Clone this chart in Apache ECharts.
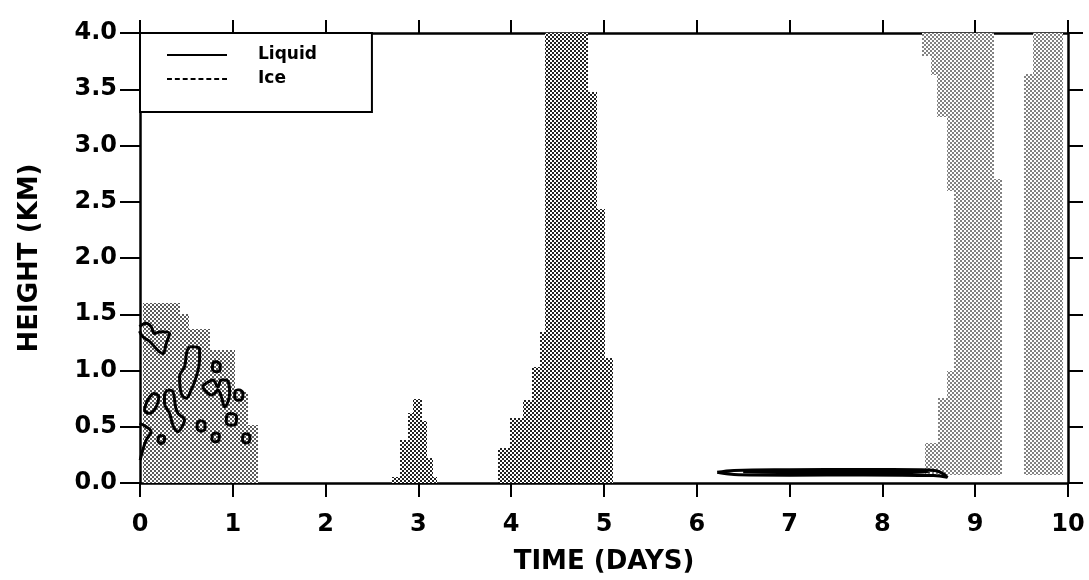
<!DOCTYPE html>
<html>
<head>
<meta charset="utf-8">
<script src="https://cdn.jsdelivr.net/npm/echarts@6/dist/echarts.min.js"></script>
<style>html,body{margin:0;padding:0;background:#fff;}#c{width:1089px;height:580px;}</style>
</head>
<body>
<div id="c"></div>
<script>
// ---------- DATA ----------
const xTickLabels = ['0','1','2','3','4','5','6','7','8','9','10'];
const yTickLabels = ['0.0','0.5','1.0','1.5','2.0','2.5','3.0','3.5','4.0'];

// Ice cloud occurrence: [timeStart, timeEnd, heightBottom, heightTop] (days, km)
const iceDay0 = [
  [0.03,0.43,0,1.60],[0.43,0.53,0,1.50],[0.53,0.75,0,1.37],
  [0.75,1.02,0,1.18],[1.02,1.16,0,0.81],[1.16,1.27,0,0.52]
];
const iceDay3 = [
  [2.72,2.80,0,0.05],[2.80,2.89,0,0.38],[2.89,2.94,0,0.62],[2.94,3.04,0,0.75],
  [3.04,3.09,0,0.55],[3.09,3.16,0,0.22],[3.16,3.20,0,0.05]
];
const iceDay4 = [
  [3.86,3.99,0,0.31],[3.99,4.13,0,0.58],[4.13,4.22,0,0.74],[4.22,4.31,0,1.03],
  [4.31,4.36,0,1.34],[4.36,4.83,0,4.0],[4.83,4.92,0,3.48],[4.92,5.01,0,2.44],[5.01,5.10,0,1.11]
];
const iceDay9 = [
  [8.43,8.52,3.80,4.0],[8.52,8.59,3.63,4.0],[8.59,8.70,3.25,4.0],[8.70,8.77,2.60,4.0],
  [8.77,9.20,0.07,4.0],[9.20,9.29,0.07,2.70],[8.70,8.77,0.07,1.00],
  [8.60,8.70,0.07,0.76],[8.46,8.60,0.07,0.36]
];
const iceDay10 = [
  [9.62,9.95,3.64,4.0],[9.53,9.95,0.07,3.64]
];

// Liquid water contours: lists of [time, height]
const liquidContours = [
  [[-0.005,1.39],[0.067,1.42],[0.12,1.39],[0.156,1.33],[0.229,1.345],[0.318,1.33],[0.283,1.24],[0.246,1.15],[0.192,1.18],[0.102,1.26],[0.03,1.30],[-0.005,1.35]],
  [[0.534,1.212],[0.642,1.197],[0.642,1.093],[0.606,0.945],[0.552,0.827],[0.498,0.753],[0.444,0.797],[0.426,0.945],[0.48,1.034],[0.505,1.167],[0.534,1.212]],
  [[0.138,0.797],[0.203,0.767],[0.175,0.678],[0.102,0.619],[0.049,0.649],[0.084,0.738],[0.138,0.797]],
  [[0.30,0.827],[0.354,0.812],[0.383,0.678],[0.408,0.62],[0.48,0.56],[0.444,0.486],[0.408,0.456],[0.361,0.50],[0.318,0.62],[0.264,0.708],[0.264,0.782],[0.30,0.827]],
  [[0.714,0.886],[0.785,0.916],[0.839,0.856],[0.876,0.916],[0.930,0.916],[0.966,0.797],[0.912,0.678],[0.876,0.767],[0.839,0.827],[0.804,0.797],[0.768,0.782],[0.714,0.812],[0.678,0.856],[0.714,0.886]],
  [[0.822,1.08],[0.865,1.05],[0.86,1.0],[0.815,0.99],[0.78,1.02],[0.79,1.07],[0.822,1.08]],
  [[1.066,0.83],[1.11,0.80],[1.10,0.745],[1.06,0.735],[1.02,0.76],[1.025,0.815],[1.066,0.83]],
  [[0.984,0.62],[1.04,0.59],[1.035,0.53],[0.98,0.513],[0.93,0.54],[0.935,0.60],[0.984,0.62]],
  [[0.66,0.555],[0.70,0.53],[0.70,0.48],[0.655,0.46],[0.615,0.49],[0.62,0.535],[0.66,0.555]],
  [[0.814,0.446],[0.855,0.425],[0.85,0.385],[0.81,0.366],[0.775,0.39],[0.78,0.43],[0.814,0.446]],
  [[1.146,0.44],[1.185,0.415],[1.18,0.375],[1.14,0.355],[1.105,0.38],[1.11,0.425],[1.146,0.44]],
  [[0.229,0.425],[0.265,0.405],[0.26,0.37],[0.225,0.352],[0.195,0.375],[0.2,0.41],[0.229,0.425]],
  [[-0.005,0.53],[0.067,0.50],[0.12,0.456],[0.067,0.382],[0.03,0.293],[0.002,0.204]],
  [[6.22,0.095],[6.4,0.112],[7.0,0.118],[7.8,0.12],[8.4,0.118],[8.58,0.108],[8.66,0.08],[8.70,0.05],[8.55,0.066],[7.8,0.072],[7.0,0.07],[6.45,0.073],[6.3,0.085],[6.22,0.095]],
  [[6.5,0.1],[7.2,0.106],[8.0,0.105],[8.5,0.098],[8.0,0.09],[7.2,0.09],[6.5,0.1]]
];

// ---------- STYLE ----------
function makePattern(size, color) {
  const cv = document.createElement('canvas');
  cv.width = 4; cv.height = 4;
  const ctx = cv.getContext('2d');
  ctx.fillStyle = '#fff'; ctx.fillRect(0,0,4,4);
  ctx.fillStyle = color;
  const o = (2 - size) / 2;
  ctx.fillRect(o, o, size, size);
  ctx.fillRect(2 + o, 2 + o, size, size);
  return { image: cv, repeat: 'repeat' };
}
const patDark = makePattern(2, '#222');
const patMed = makePattern(1.6, '#000');
const patLight = makePattern(1.4, '#000');

const FONT = 'DejaVu Sans';

function iceSeries(data, pat) {
  return {
    type: 'custom', name: 'Ice', data: data, z: 1,
    encode: { x: [0, 1], y: [2, 3] },
    renderItem: function (params, api) {
      const a = api.coord([api.value(0), api.value(3)]);
      const b = api.coord([api.value(1), api.value(2)]);
      const x0 = Math.round(a[0]), y0 = Math.round(a[1]);
      const x1 = Math.round(b[0]), y1 = Math.round(b[1]);
      return { type: 'rect', shape: { x: x0, y: y0, width: x1 - x0, height: y1 - y0 }, style: { fill: pat } };
    }
  };
}

const series = [
  iceSeries(iceDay0, patMed),
  iceSeries(iceDay3, patDark),
  iceSeries(iceDay4, patDark),
  iceSeries(iceDay9, patLight),
  iceSeries(iceDay10, patLight)
];
liquidContours.forEach(function (c) {
  series.push({
    type: 'line', name: 'Liquid', data: c, smooth: 0.4, symbol: 'none', z: 3,
    lineStyle: { color: '#000', width: 3 }, silent: true
  });
});

let dashPath = 'path://';
for (let i = 0; i < 8; i++) { const s = i * 8; dashPath += 'M' + s + ',0H' + (s + 5) + 'V2H' + s + 'Z'; }

const axisLineStyle = { color: '#000', width: 2.5 };
const option = {
  animation: false,
  backgroundColor: '#fff',
  grid: { left: 140, right: 21, top: 33, bottom: 97 },
  legend: {
    left: 140, top: 33, orient: 'vertical',
    data: [
      { name: 'Liquid', icon: 'path://M0,0H60V2H0Z' },
      { name: 'Ice', icon: dashPath }
    ],
    itemWidth: 60, itemHeight: 2, itemGap: 4,
    padding: [12, 55, 23, 27],
    borderColor: '#000', borderWidth: 2, backgroundColor: '#fff',
    itemStyle: { color: '#000' },
    textStyle: { fontFamily: FONT, fontWeight: 'bold', fontSize: 17, color: '#000', lineHeight: 20, padding: [0, 0, 0, 26] },
    selectedMode: false
  },
  xAxis: [
    { type: 'value', min: 0, max: 10, interval: 1, position: 'bottom',
      axisLine: { show: true, lineStyle: axisLineStyle },
      axisTick: { show: true, inside: false, length: 14, lineStyle: { color: '#000', width: 2 } },
      axisLabel: { margin: 30, fontFamily: FONT, fontWeight: 'bold', fontSize: 24, color: '#000',
        formatter: function (v) { return xTickLabels[Math.round(v)]; } },
      splitLine: { show: false },
      name: 'TIME (DAYS)', nameLocation: 'middle', nameGap: 66,
      nameTextStyle: { fontFamily: FONT, fontWeight: 'bold', fontSize: 26, color: '#000' } },
    { type: 'value', min: 0, max: 10, interval: 1, position: 'top',
      axisLine: { show: true, onZero: false, lineStyle: axisLineStyle },
      axisTick: { show: true, inside: false, length: 13, lineStyle: { color: '#000', width: 2 } },
      axisLabel: { show: false }, splitLine: { show: false } }
  ],
  yAxis: [
    { type: 'value', min: 0, max: 4, interval: 0.5, position: 'left',
      axisLine: { show: true, lineStyle: axisLineStyle },
      axisTick: { show: true, inside: false, length: 20, lineStyle: { color: '#000', width: 2 } },
      axisLabel: { margin: 23, fontFamily: FONT, fontWeight: 'bold', fontSize: 24, color: '#000',
        formatter: function (v) { return yTickLabels[Math.round(v / 0.5)]; } },
      splitLine: { show: false },
      name: 'HEIGHT (KM)', nameLocation: 'middle', nameRotate: 90, nameGap: 97,
      nameTextStyle: { fontFamily: FONT, fontWeight: 'bold', fontSize: 26, color: '#000' } },
    { type: 'value', min: 0, max: 4, interval: 0.5, position: 'right',
      axisLine: { show: true, onZero: false, lineStyle: axisLineStyle },
      axisTick: { show: true, inside: false, length: 15, lineStyle: { color: '#000', width: 2 } },
      axisLabel: { show: false }, splitLine: { show: false } }
  ],
  series: series
};
const chart = echarts.init(document.getElementById('c'), null, { renderer: 'canvas' });
chart.setOption(option);
</script>
</body>
</html>
